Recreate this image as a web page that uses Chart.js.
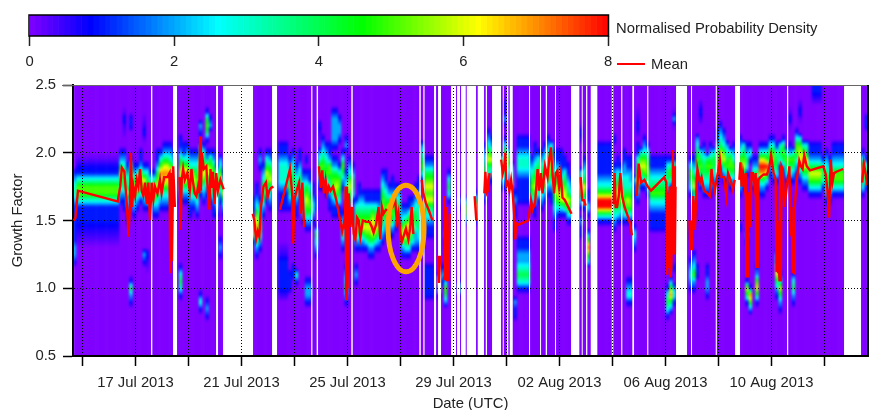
<!DOCTYPE html>
<html>
<head>
<meta charset="utf-8">
<script src="https://cdn.jsdelivr.net/npm/chart.js@4"></script>
<style>
  body { margin: 0; background: #fff; }
  #wrap { position: relative; width: 871px; height: 410px; overflow: hidden; }
  canvas { position: absolute; left: 0; top: 0; }
  .note { position: absolute; font: 14.8px "Liberation Sans", Arial, sans-serif; color: #222; white-space: nowrap; }
  #swatch { position: absolute; left: 617px; top: 63px; width: 28px; height: 2px; background: #f00; }
</style>
</head>
<body>
<div id="wrap">
  <canvas id="bar" width="871" height="85"></canvas>
  <canvas id="main" width="871" height="410"></canvas>
  <div class="note" style="left:616px;top:20px">Normalised Probability Density</div>
  <div id="swatch"></div>
  <div class="note" style="left:651px;top:56px">Mean</div>
</div>
<script>
// x axis is in days of July 2013 (32 = 1 Aug)
const tickDays = [15, 17, 19, 21, 23, 25, 27, 29, 31, 33, 35, 37, 39, 41, 43];
const dateLabels = ['', '17 Jul 2013', '', '21 Jul 2013', '', '25 Jul 2013', '', '29 Jul 2013', '',
  '02 Aug 2013', '', '06 Aug 2013', '', '10 Aug 2013', ''];
const gfTicks = [0.5, 1.0, 1.5, 2.0, 2.5];

// colour scale
const colorStops = [0, 0.84, 2.6, 4.6, 6.2, 8];
const colorValues = [[128, 0, 255], [0, 0, 255], [0, 255, 255], [0, 255, 0], [255, 255, 0], [255, 0, 0]];
const colorbarTicks = [0, 2, 4, 6, 8];

// first day of the grid, columns are 3 hours wide
const gridStart = 14.64;
const columnsPerDay = 8;

// no data in these spans (white in the picture)
const gapStart = [17.585, 18.415, 20.038, 20.302, 22.151, 23.63, 23.834, 25.143, 27.709, 27.86, 28.264, 28.415,
  28.906, 29.132, 29.283, 29.498, 29.913, 30.215, 30.453, 30.857, 31.008, 31.121, 31.849, 32.264, 32.479, 32.83,
  33.434, 33.838, 34.0, 34.177, 34.97, 35.328, 35.747, 36.309, 37.396, 37.962, 38.894, 39.623, 41.585, 43.736];
const gapEnd = [17.634, 18.566, 20.113, 21.434, 22.34, 23.675, 23.887, 25.196, 27.762, 27.906, 28.34, 28.528,
  29.094, 29.245, 29.46, 29.849, 30.151, 30.264, 30.792, 30.894, 31.068, 31.234, 31.887, 32.302, 32.528, 32.868,
  33.747, 33.875, 34.049, 34.426, 35.03, 35.37, 35.811, 36.351, 37.811, 38.0, 38.936, 39.811, 41.63, 44.377];

// density read per column: "bin:levels", bin 0 is GF 0.5, one bin is 0.05 GF, levels go upwards, 0 elsewhere
// digits are density, a b c are 0.25 0.5 0.75
const densityColumns = [
  '13:0122111111233210', '17:abc11135531ca0', '17:abc11135531ca0', '17:abc11135531ca0', '17:abc11135531ca0', '17:abc11135531ca0', '17:abc11135531ca0', '17:abc11135531ca0',
  '17:abc11135531ca0', '17:abc11135531ca0', '17:abc11135531ca0', '17:abc11135531ca0', '17:abc11135531ca0', '17:abc11135531ca0', '22:0123464210', '21:01124553210 32:0ab1a0',
  '19:0112364321', '7:012410 23:0124531 33:0110', '20:012356421', '21:01246531', '22:0135652110', '13:0120 21:012356310 31:0a1ba0', '12:0ab10 21:01365431', '21:0146431',
  '20:01245531', '20:012356542110', '21:0123467531', '21:012357764210', '21:012356764210', '21:01235775321', '23:013564210', '',
  '8:0134310 22:01235654211', '22:01246753110', '22:0124675321', '20:01123565321', '21:0124565321', '20:012355543210', '6:01310 23:0135675421 32:0120', '22:0123565431',
  '5:01210 23:01246621 31:0145410', '22:012356541 33:0210', '20:01124565421', '20:012355431', '14:01210 22:01246532', '20:01246421', '', '',
  '', '', '', '', '', '', '16:0135310 21:011', '14:0124676532110',
  '15:012354321 27:01210', '20:012455321', '22:012456431', '21:0123465421', '23:0134431', '', '8:0b11111ba0 21:011123332110', '8:0b11111ba0 21:011123332110',
  '8:0b11111ba0 21:011123332110', '9:01110 21:0124543210', '11:0110 22:0123443210', '10:0130 20:0112343210', '22:012343211', '19:0123343210', '7:012210 18:0124565421 28:010', '7:012210 18:0124554311',
  '19:01232110', '14:0123410 21:0110', '24:012453210 31:0ab10', '24:0124543210', '23:0123543210', '21:011234552110', '20:0112455421 30:01222210', '20:0113565421 30:01222210',
  '20:011345531 31:012210', '15:01243210 24:0124531', '7:01253210 21:0124321 30:0210', '20:0124565321', '22:0134421', '10:0121 15:012465431', '15:012455432110', '15:0124654321',
  '15:0135654311', '14:01245654311', '14:01246765311', '15:0135654311', '15:0124543211', '16:0123455543210', '17:012355432110', '17:0124564210',
  '17:01245432110', '18:012453210', '19:0124321', '14:0124653210', '14:0135764210', '14:0134675311', '15:013465421', '15:012234432110',
  '15:012344332211', '15:012332110 25:01354320', '8:0111110 17:01123465654210', '8:0111110 17:01123465654210', '8:0111110 17:01123465654210', '', '8:014710', '10:01210',
  '7:024520 16:01210', '22:013431', '', '', '8:0141 21:0120', '', '19:025520', '',
  '', '19:014741', '', '', '22:0123554321', '25:0134653210', '25:01246421', '',
  '', '24:012543', '24:0123565310 33:0b2b1a0', '25:012453', '17:0110 23:012432', '5:01120 20:01121', '9:0134322110 22:011112332110', '9:0134322110 22:011112332110',
  '9:0134322110 22:011112332110', '9:0134322110 22:011112332110', '21:0124543210', '20:0113565432110', '22:0135654310', '21:0123554321', '22:0124654321', '23:0124565321',
  '22:0112355643', '18:0112345643211', '20:01356543211', '20:01366432111', '20:0146654311', '19:0135643211', '19:01345321', '',
  '', '17:0112 21:0135643 31:0b1a0', '21:013564321', '13:0357520 20:013110', '', '', '19:01488532111110', '19:01488532111110',
  '19:01488532111110', '19:01488532111110', '19:01488532111110', '18:01234654321 31:010', '19:01345654311', '19:01245643210', '19:0134543322110', '7:013210 19:013564332110',
  '7:013210 19:0135543221100', '15:012310 23:0112', '22:01246543110 32:0b1ba0', '24:0124653', '24:013565321', '23:012455431', '18:0111235432110', '18:0111235432110',
  '18:0111235432110', '18:0111235432110', '18:0111235432110', '5:0134310 23:0134431', '6:0247520 24:013531', '7:0132 12:01 24:0124410 33:0a2a0', '', '',
  '', '', '9:012321 17:01 23:0134531', '9:0125321 20:0112465321', '11:0110 25:01245432', '24:0124543 34:0b1b0', '23:0123443210', '8:0122110 23:0123454',
  '23:012345421', '24:0123443', '25:0124542110', '26:012564321', '25:012465321', '25:0135432', '24:0124553', '24:012453210',
  '', '18:01 23:0124655321', '24:01246543', '7:014610 16:0120 26:013421', '6:025710 28:01310', '24:013421', '7:01465210 25:01421', '23:012478631',
  '23:012478631', '24:01368531', '26:0124531', '25:01245531', '8:012467420 25:0134431', '6:012463100 27:01343', '26:0124541', '25:013453',
  '25:0134521 33:0a1a0', '7:0124310 25:012453', '26:01235531', '25:01246653 34:0a1b0', '24:01246753', '24:01246643', '23:0135642110', '23:0135642110 37:0b11',
  '23:0135642110 37:0b11', '23:0135642110 37:0b11', '24:013431', '22:012354321', '22:01235321', '23:0135532110', '23:0135532110', '23:0135532110',
  '23:0135532110', '', '', '', '', '', '23:01346531', '24:013431 33:0110',
];

// mean growth factor per column: null breaks the line, skip leaves the column out, a list is several readings
const skip = 'skip';
const meanValues = [
  [1.5, 1.52], 1.72, skip, skip, skip, skip, skip, skip,
  skip, skip, skip, skip, skip, 1.64, [1.75, 1.89], 1.86,
  [1.62, 1.38], [1.6, 2.0, 1.6], [1.75, 1.68], [1.8, 1.75], [1.88, 1.72], [1.68, 1.78], [1.62, 1.78], [1.5, 1.78],
  [1.65, 1.75], 1.7, [1.8, 1.7], 1.82, 1.82, [1.85, 1.11, 1.85, 1.2], [1.9, 1.6], null,
  [1.82, 1.43, 1.8], [1.88, 1.8], 1.85, [1.72, 1.88], [1.78, 1.7], [1.68, 1.75], [1.7, 2.12, 1.72, 2.0], 1.88,
  [1.9, 1.7], [1.58, 1.88, 1.74], [1.86, 1.62], [1.85, 1.72], 1.8, 1.73, null, null,
  null, null, null, null, null, null, [1.55, 1.5], [1.36, 1.42],
  [1.38, 1.6], 1.75, [1.78, 1.67], [1.72, 1.74], 1.75, null, 1.58, skip,
  skip, 1.88, [1.7, 1.33, 1.65], 1.72, [1.78, 1.55], [1.78, 1.45], null, null,
  null, null, [1.9, 1.74], [1.87, 1.7], [1.8, 1.7], [1.75, 1.72], 1.75, 1.65,
  1.52, [1.42, 1.48], [1.45, 1.75, 0.92, 1.75, 1.0], [1.7, 1.45], [1.6, 1.4], [1.36, 1.52], [1.5, 1.38], 1.5,
  1.49, 1.49, [1.45, 1.41], 1.47, [1.6, 1.36], [1.6, 1.55], 1.58, 1.57,
  1.6, [1.66, 1.5], [1.56, 1.42], [1.34, 1.38], 1.44, [1.36, 1.44], [1.6, 1.4], null,
  null, [1.8, 1.7], 1.63, 1.57, 1.5, null, [1.24, 1.04, 1.24], null,
  [1.68, 1.06, 1.6, 1.06], [1.06, 1.55], null, null, null, null, null, null,
  null, [1.68, 1.5], null, null, [1.7, 1.86, 1.7], [1.72, 1.85], null, null,
  null, [1.95, 1.85], [1.9, 2.0, 1.76], [1.78, 1.72], [1.8, 1.7], [1.55, 1.36, 1.48], 1.47, skip,
  skip, 1.5, [1.65, 1.58], 1.63, [1.88, 1.72], [1.85, 1.7], 1.9, [1.82, 1.95],
  [2.04, 1.85], [1.7, 1.85], [1.87, 1.75], [1.84, 1.67], 1.65, 1.6, 1.55, null,
  null, [1.82, 1.65], [1.65, 1.61], null, null, null, null, null,
  null, null, null, [1.62, 1.85, 1.6], [1.6, 1.68], [1.85, 1.68], 1.6, 1.53,
  [1.47, 1.39], null, [1.68, 1.92], 1.78, 1.8, 1.75, 1.72, skip,
  skip, skip, 1.82, [1.78, 1.1, 1.7, 1.15], [1.75, 1.08, 1.15, 1.75], [2.02, 1.25, 1.9, 1.25, 1.75], null, null,
  null, null, [1.5, 1.28, 1.5, 1.28], [1.68, 1.43], 1.88, [1.78, 1.82], 1.72, 1.7,
  [1.68, 1.88], [1.78, 1.72], [1.8, 1.86], [1.95, 1.82], 1.82, [1.68, 1.85], 1.8, [1.72, 1.8],
  null, [1.8, 1.93, 1.75], [1.85, 1.75], [1.85, 1.08, 1.5, 1.08, 1.7], [1.7, 1.45, 1.85], [1.85, 1.75], [1.85, 1.15, 1.8, 1.15, 1.8], 1.82,
  1.84, 1.84, [1.9, 1.98], 1.85, [1.8, 1.12, 1.5, 1.12], [1.2, 1.05, 1.9, 1.05, 1.9], [1.88, 1.6], 1.75,
  [1.9, 1.4], [1.38, 1.11, 1.6, 1.11, 1.6], 1.8, [1.94, 1.9], [1.88, 1.98], 1.9, 1.87, skip,
  skip, skip, 1.9, [1.84, 1.72], [1.52, 1.95], [1.78, 1.85], 1.86, skip,
  1.88, null, null, null, null, null, [1.78, 1.92], [1.85, 1.76],
];

// hand drawn ring on the original figure
const ringDay = 27.2075;
const ringGf = 1.441;
const ringDayRadius = 0.68;
const ringGfRadius = 0.32;

function colorFor(level) {
  let k = 0;
  while (k < colorStops.length - 2 && level > colorStops[k + 1]) k++;
  const f = Math.min(1, Math.max(0, (level - colorStops[k]) / (colorStops[k + 1] - colorStops[k])));
  const a = colorValues[k];
  const b = colorValues[k + 1];
  return `rgb(${a.map((v, n) => Math.round(v + (b[n] - v) * f)).join(',')})`;
}

const fractions = { a: 0.25, b: 0.5, c: 0.75 };

function parseColumn(text) {
  const bins = new Array(41).fill(0);
  text.split(' ').filter(Boolean).forEach(part => {
    const [start, levels] = part.split(':');
    [...levels].forEach((c, n) => {
      bins[+start + n] = c in fractions ? fractions[c] : +c;
    });
  });
  return bins;
}

const heatmapPlugin = {
  id: 'heatmap',
  beforeDraw(chart) {
    const { ctx, chartArea, scales } = chart;
    const bottom = scales.y.getPixelForValue(0.5);
    const top = scales.y.getPixelForValue(2.5);
    // paint the columns on the side first so they can be softened together
    const side = document.createElement('canvas');
    side.width = chart.width;
    side.height = chart.height;
    const sideCtx = side.getContext('2d');
    densityColumns.forEach((text, i) => {
      const x0 = scales.x.getPixelForValue(gridStart + i / columnsPerDay);
      const x1 = scales.x.getPixelForValue(gridStart + (i + 1) / columnsPerDay);
      const bins = parseColumn(text);
      const grad = sideCtx.createLinearGradient(0, bottom, 0, top);
      for (let r = 0; r < 40; r++) {
        for (let s = 0; s < 4; s++) {
          grad.addColorStop((r + s / 4) / 40, colorFor(bins[r] + (bins[r + 1] - bins[r]) * s / 4));
        }
      }
      grad.addColorStop(1, colorFor(bins[40]));
      sideCtx.fillStyle = grad;
      sideCtx.fillRect(x0, top - 4, x1 - x0 + 0.6, bottom - top + 8);
    });
    ctx.save();
    ctx.beginPath();
    ctx.rect(chartArea.left, chartArea.top, chartArea.width, chartArea.height);
    ctx.clip();
    ctx.filter = 'blur(0.8px)';
    ctx.drawImage(side, 0, 0);
    ctx.filter = 'none';
    ctx.fillStyle = '#fff';
    gapStart.forEach((start, i) => {
      const x0 = scales.x.getPixelForValue(start);
      const x1 = scales.x.getPixelForValue(gapEnd[i]);
      ctx.fillRect(x0, top, x1 - x0, bottom - top);
    });
    ctx.restore();
  },
  afterDatasetsDraw(chart) {
    const { ctx, chartArea, scales } = chart;
    ctx.save();
    ctx.strokeStyle = '#ffa500';
    ctx.lineWidth = 5;
    ctx.beginPath();
    ctx.ellipse(
      scales.x.getPixelForValue(ringDay),
      scales.y.getPixelForValue(ringGf),
      scales.x.getPixelForValue(ringDay + ringDayRadius) - scales.x.getPixelForValue(ringDay),
      scales.y.getPixelForValue(ringGf) - scales.y.getPixelForValue(ringGf + ringGfRadius),
      0, 0, Math.PI * 2
    );
    ctx.stroke();
    // top and right edge of the frame
    ctx.strokeStyle = '#666';
    ctx.lineWidth = 1;
    ctx.beginPath();
    ctx.moveTo(chartArea.left - 11, chartArea.top + 0.5);
    ctx.lineTo(chartArea.right, chartArea.top + 0.5);
    ctx.stroke();
    ctx.strokeStyle = '#000';
    ctx.lineWidth = 2;
    ctx.beginPath();
    ctx.moveTo(chartArea.right, chartArea.top);
    ctx.lineTo(chartArea.right, chartArea.bottom);
    ctx.stroke();
    ctx.restore();
  },
};

// flatten the mean readings into line points
const meanPoints = [];
meanValues.forEach((entry, i) => {
  if (entry === skip) return;
  const readings = Array.isArray(entry) ? entry : [entry];
  readings.forEach((value, n) => {
    meanPoints.push({ x: gridStart + (i + (n + 0.5) / readings.length) / columnsPerDay, y: value });
  });
});

const tickFont = { family: '"Liberation Sans", Arial, sans-serif', size: 14.8 };

new Chart(document.getElementById('main'), {
  type: 'line',
  data: {
    datasets: [{
      label: 'Mean',
      data: meanPoints,
      borderColor: '#ff0000',
      borderWidth: 2.4,
      pointRadius: 0,
      tension: 0,
      spanGaps: false,
    }],
  },
  options: {
    responsive: false,
    animation: false,
    layout: { padding: { top: 85, right: 3, left: 0, bottom: 0 } },
    plugins: { legend: { display: false }, tooltip: { enabled: false } },
    scales: {
      x: {
        type: 'linear',
        min: gridStart,
        max: gridStart + 30,
        afterBuildTicks: scale => {
          scale.ticks = tickDays.map(value => ({ value }));
        },
        afterFit: scale => {
          scale.height = 54;
        },
        ticks: {
          autoSkip: false,
          maxRotation: 0,
          minRotation: 0,
          padding: 8,
          color: '#222',
          font: tickFont,
          callback: (value, index) => dateLabels[index],
        },
        grid: { color: '#000', lineWidth: 1, tickLength: 10, tickColor: '#000', tickWidth: 1.5 },
        border: { color: '#000', width: 2, dash: [1, 2] },
        title: {
          display: true,
          text: 'Date (UTC)',
          color: '#222',
          font: { ...tickFont, lineHeight: 1 },
          padding: { top: 0, bottom: -1 },
        },
      },
      y: {
        type: 'linear',
        min: 0.5,
        max: 2.5,
        afterBuildTicks: scale => {
          scale.ticks = gfTicks.map(value => ({ value }));
        },
        afterFit: scale => {
          scale.width = 73;
        },
        ticks: { padding: 7, color: '#222', font: tickFont, callback: value => value.toFixed(1) },
        grid: {
          color: ctx => (ctx.tick && (ctx.tick.value === 0.5 || ctx.tick.value === 2.5) ? 'transparent' : '#000'),
          lineWidth: 1,
          tickLength: 10,
          tickColor: '#000',
          tickWidth: 1.5,
        },
        border: { color: '#000', width: 2, dash: [1, 2] },
        title: { display: true, text: 'Growth Factor', color: '#222', font: tickFont, padding: { top: 9, bottom: 0 } },
      },
    },
  },
  plugins: [heatmapPlugin],
});

// colour bar: a stack of thin bars along the density axis
const barSteps = 100;
const barDatasets = [];
for (let k = 0; k < barSteps; k++) {
  barDatasets.push({
    data: [8 / barSteps],
    backgroundColor: colorFor((k + 0.5) * 8 / barSteps),
    borderWidth: 0,
    barPercentage: 1,
    categoryPercentage: 1,
  });
}

const framePlugin = {
  id: 'frame',
  afterDraw(chart) {
    const { ctx, chartArea } = chart;
    ctx.save();
    ctx.strokeStyle = '#000';
    ctx.lineWidth = 1.5;
    ctx.strokeRect(chartArea.left - 0.5, chartArea.top, chartArea.width + 1, chartArea.height);
    ctx.restore();
  },
};

new Chart(document.getElementById('bar'), {
  type: 'bar',
  data: { labels: ['density'], datasets: barDatasets },
  options: {
    indexAxis: 'y',
    responsive: false,
    animation: false,
    layout: { padding: { left: 29.5, right: 263, top: 15, bottom: 0 } },
    plugins: { legend: { display: false }, tooltip: { enabled: false } },
    scales: {
      x: {
        type: 'linear',
        stacked: true,
        min: 0,
        max: 8,
        afterBuildTicks: scale => {
          scale.ticks = colorbarTicks.map(value => ({ value }));
        },
        afterFit: scale => {
          scale.height = 49;
        },
        ticks: { padding: 7, color: '#222', font: tickFont },
        grid: { drawOnChartArea: false, tickLength: 10, tickColor: '#222', tickWidth: 1.5 },
        border: { display: false },
      },
      y: { stacked: true, display: false },
    },
  },
  plugins: [framePlugin],
});
</script>
</body>
</html>
